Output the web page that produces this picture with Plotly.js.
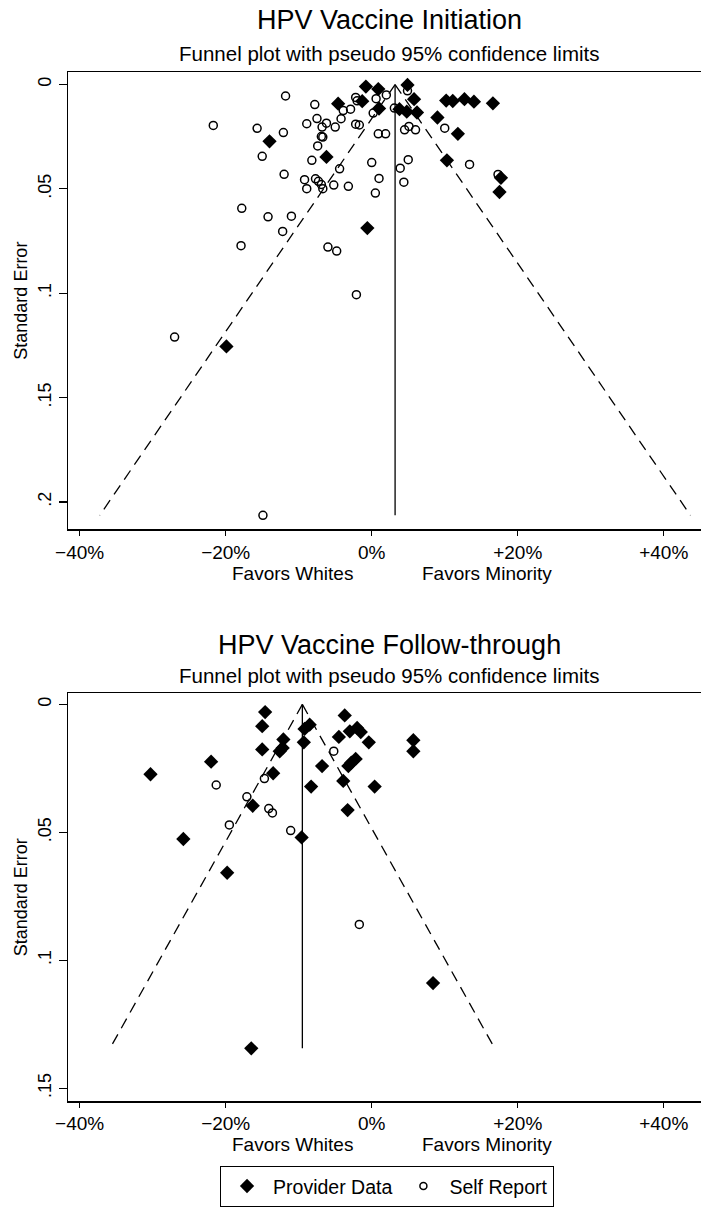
<!DOCTYPE html>
<html>
<head>
<meta charset="utf-8">
<script src="https://cdn.plot.ly/plotly-3.0.1.min.js"></script>
<style>html,body{margin:0;padding:0;background:#fff;}#chart{width:701px;height:1207px;}</style>
</head>
<body>
<div id="chart"></div>
<script>
// ---- Data (effect in %, standard error) ----
var topProvX  = [-14.0,-6.2,-4.6,-0.8,0.9,-1.3,1.0,-0.6,4.9,5.8,3.8,4.8,6.2,10.2,11.1,12.7,14.0,16.6,9.0,11.8,10.3,17.7,17.5,-19.9];
var topProvSE = [0.0272,0.0347,0.0092,0.0010,0.0022,0.0080,0.0115,0.0688,0.0002,0.0070,0.0118,0.0130,0.0134,0.0077,0.0079,0.0070,0.0082,0.0090,0.0158,0.0236,0.0363,0.0447,0.0515,0.1255];
var topSelfX  = [-21.7,-11.8,-7.8,-15.7,-12.1,-8.9,-7.5,-6.2,-6.8,-5.0,-4.2,-3.9,-2.9,-2.2,-2.0,-2.2,-1.7,-6.9,-6.7,-7.4,-15.0,-8.2,-4.4,0.0,1.0,0.5,-12.0,-9.2,-7.7,-7.3,-6.9,-6.7,-8.9,-5.2,-3.2,-17.8,-14.2,-11.0,-12.2,-17.9,-6.0,-4.8,-2.1,0.2,0.9,1.9,0.6,2.0,3.1,4.9,4.5,5.1,6.0,10.0,5.0,3.9,4.4,13.4,17.3,-27.0,-14.9];
var topSelfSE = [0.0196,0.0055,0.0096,0.0210,0.0230,0.0188,0.0163,0.0185,0.0204,0.0204,0.0164,0.0125,0.0118,0.0062,0.0078,0.0190,0.0194,0.0249,0.0252,0.0294,0.0344,0.0363,0.0404,0.0374,0.0450,0.0520,0.0430,0.0456,0.0452,0.0464,0.0479,0.0499,0.0499,0.0482,0.0488,0.0593,0.0634,0.0631,0.0704,0.0772,0.0779,0.0798,0.1007,0.0137,0.0236,0.0236,0.0068,0.0050,0.0113,0.0030,0.0217,0.0201,0.0217,0.0209,0.0360,0.0401,0.0468,0.0383,0.0431,0.1210,0.2064];
var topCenter = 3.2;

var botProvX  = [-30.3,-22.0,-25.8,-19.8,-14.6,-15.0,-15.0,-12.1,-12.6,-12.2,-13.5,-16.3,-9.6,-8.5,-9.2,-9.3,-3.7,-4.5,-3.0,-2.0,-1.5,-0.4,-6.8,-3.2,-2.2,-2.8,-8.3,-3.9,0.4,-3.3,5.7,5.7,8.4,-16.5];
var botProvSE = [0.0273,0.0224,0.0526,0.0658,0.0030,0.0085,0.0176,0.0137,0.0183,0.0170,0.0269,0.0396,0.0520,0.0079,0.0096,0.0148,0.0043,0.0127,0.0105,0.0092,0.0108,0.0148,0.0241,0.0241,0.0213,0.0228,0.0321,0.0299,0.0321,0.0413,0.0140,0.0183,0.1089,0.1344];
var botSelfX  = [-21.3,-17.1,-14.7,-14.1,-13.6,-19.5,-11.1,-5.2,-1.7];
var botSelfSE = [0.0315,0.0361,0.0290,0.0407,0.0424,0.0471,0.0493,0.0183,0.0860];
var botCenter = -9.5;

var xTickVals = [-40,-20,0,20,40];
var xTickText = ['\u221240%','\u221220%','0%','+20%','+40%'];
var topYTickVals = [0,0.05,0.1,0.15,0.2];
var topYTickText = ['0','.05','.1','.15','.2'];
var botYTickVals = [0,0.05,0.1,0.15];
var botYTickText = ['0','.05','.1','.15'];

// ---- helpers ----
function funnel(center, seList, xa, ya){
  var maxSE = Math.max.apply(null, seList);
  var half = 1.96*maxSE*100;
  var dashLine = {color:'#000', width:1.3, dash:'11px,7px'};
  return [
    {x:[center, center-half], y:[0, maxSE], xaxis:xa, yaxis:ya, mode:'lines', line:dashLine, showlegend:false, hoverinfo:'skip'},
    {x:[center, center+half], y:[0, maxSE], xaxis:xa, yaxis:ya, mode:'lines', line:dashLine, showlegend:false, hoverinfo:'skip'},
    {x:[center, center], y:[0, maxSE], xaxis:xa, yaxis:ya, mode:'lines',
     line:{color:'#000', width:1.3}, showlegend:false, hoverinfo:'skip'}
  ];
}
var FONT = 'Liberation Sans, Arial, Helvetica, sans-serif';
var provMarker = {symbol:'diamond', size:11, color:'#000', line:{width:0}};
var selfMarker = {symbol:'circle-open', size:8, color:'#000', line:{width:1.5, color:'#000'}};

var traces = [].concat(
  funnel(topCenter, topProvSE.concat(topSelfSE), 'x', 'y'),
  funnel(botCenter, botProvSE.concat(botSelfSE), 'x2', 'y2'),
  [
    {x:topSelfX, y:topSelfSE, xaxis:'x', yaxis:'y', mode:'markers', marker:selfMarker, name:'Self Report', showlegend:false},
    {x:topProvX, y:topProvSE, xaxis:'x', yaxis:'y', mode:'markers', marker:provMarker, name:'Provider Data', showlegend:false},
    {x:botSelfX, y:botSelfSE, xaxis:'x2', yaxis:'y2', mode:'markers', marker:selfMarker, name:'Self Report', showlegend:false},
    {x:botProvX, y:botProvSE, xaxis:'x2', yaxis:'y2', mode:'markers', marker:provMarker, name:'Provider Data', legendrank:1, showlegend:true},
    {x:[null], y:[null], xaxis:'x2', yaxis:'y2', mode:'markers', marker:{symbol:'circle-open', size:7, color:'#000', line:{width:1.5,color:'#000'}}, name:'Self Report', legendrank:2, showlegend:true}
  ]
);

var axX = {range:[-41.6, 45.1], tickvals:xTickVals, ticktext:xTickText, ticks:'outside', ticklen:5, tickwidth:1.2, tickcolor:'#000',
  showline:true, linecolor:'#000', linewidth:1.5, mirror:true, showgrid:false, zeroline:false,
  tickfont:{family:FONT, size:19, color:'#000'}};
function axY(range, vals, text){
  return {range:range, tickvals:vals, ticktext:text, ticks:'outside', ticklen:8, tickwidth:1.2, tickcolor:'#000', tickangle:-90,
    showline:true, linecolor:'#000', linewidth:1.5, mirror:true, showgrid:false, zeroline:false,
    tickfont:{family:FONT, size:18, color:'#000'},
    title:{text:'Standard Error', font:{family:FONT, size:18, color:'#000'}, standoff:3}};
}
var layout = {
  width:701, height:1207,
  margin:{l:68, r:0, t:72, b:100},
  paper_bgcolor:'#fff', plot_bgcolor:'#fff',
  font:{family:FONT, color:'#000'},
  showlegend:true,
  xaxis: Object.assign({}, axX, {anchor:'y'}),
  yaxis: Object.assign(axY([0.2131, -0.006], topYTickVals, topYTickText), {domain:[0.5556, 1], anchor:'x'}),
  xaxis2: Object.assign({}, axX, {anchor:'y2'}),
  yaxis2: Object.assign(axY([0.155, -0.0043], botYTickVals, botYTickText), {domain:[0, 0.3961], anchor:'x2'}),
  legend:{orientation:'h', x:0.504, xanchor:'center', y:-0.063, yanchor:'top', bordercolor:'#000', borderwidth:1,
    font:{family:FONT, size:19.5, color:'#000'}, bgcolor:'#fff', traceorder:'normal', itemwidth:42},
  annotations:[
    {text:'HPV Vaccine Initiation', xref:'paper', yref:'paper', x:0.508, y:1.0502, xanchor:'center', yanchor:'middle', showarrow:false, font:{family:FONT, size:27, color:'#000'}},
    {text:'Funnel plot with pseudo 95% confidence limits', xref:'paper', yref:'paper', x:0.508, y:1.0184, xanchor:'center', yanchor:'middle', showarrow:false, font:{family:FONT, size:20.5, color:'#000'}},
    {text:'HPV Vaccine Follow-through', xref:'paper', yref:'paper', x:0.508, y:0.4435, xanchor:'center', yanchor:'middle', showarrow:false, font:{family:FONT, size:27, color:'#000'}},
    {text:'Funnel plot with pseudo 95% confidence limits', xref:'paper', yref:'paper', x:0.508, y:0.4135, xanchor:'center', yanchor:'middle', showarrow:false, font:{family:FONT, size:20.5, color:'#000'}},
    {text:'Favors Whites', xref:'paper', yref:'paper', x:0.354, y:0.5125, xanchor:'center', yanchor:'middle', showarrow:false, font:{family:FONT, size:19, color:'#000'}},
    {text:'Favors Minority', xref:'paper', yref:'paper', x:0.662, y:0.5125, xanchor:'center', yanchor:'middle', showarrow:false, font:{family:FONT, size:19, color:'#000'}},
    {text:'Favors Whites', xref:'paper', yref:'paper', x:0.354, y:-0.0425, xanchor:'center', yanchor:'middle', showarrow:false, font:{family:FONT, size:19, color:'#000'}},
    {text:'Favors Minority', xref:'paper', yref:'paper', x:0.662, y:-0.0425, xanchor:'center', yanchor:'middle', showarrow:false, font:{family:FONT, size:19, color:'#000'}}
  ]
};
Plotly.newPlot('chart', traces, layout, {displayModeBar:false, staticPlot:true});
</script>
</body>
</html>
